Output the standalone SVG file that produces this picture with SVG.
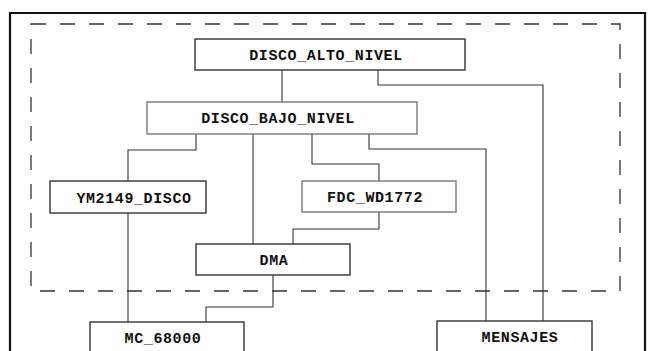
<svg xmlns="http://www.w3.org/2000/svg" width="650" height="351" viewBox="0 0 650 351">
<style>
.box{fill:#fff;stroke:#333;stroke-width:1.4}
.lt{stroke:#777}
.t{font-family:"Liberation Mono","DejaVu Sans Mono",monospace;font-weight:bold;font-size:15px;letter-spacing:0.6px;fill:#111;text-anchor:middle}
.c{fill:none;stroke:#333;stroke-width:1.1}
</style>
<rect width="650" height="351" fill="#fff"/>
<path d="M10,360 V13 H645 V360" fill="none" stroke="#111" stroke-width="2.2"/>
<rect x="31" y="24" width="589" height="267" fill="none" stroke="#333" stroke-width="1.3" stroke-dasharray="15 14"/>
<g id="connectors">
<path class="c" d="M282,70 V102"/>
<path class="c" d="M378,70 V85 H543 V321"/>
<path class="c" d="M196,134 V150 H128 V181"/>
<path class="c" d="M253,134 V244"/>
<path class="c lt" d="M312,134 V164 H379 V181"/>
<path class="c" d="M369,134 V149 H486 V321"/>
<path class="c lt" d="M379,212 V229 H293 V244"/>
<path class="c" d="M128,213 V322"/>
<path class="c" d="M273,275 V307 H206 V322"/>
</g>
<g id="disco_alto_nivel"><rect class="box" x="195" y="39" width="270" height="31"/><text class="t" x="326" y="60">DISCO_ALTO_NIVEL</text></g>
<g id="disco_bajo_nivel"><rect class="box lt" x="147" y="102" width="270" height="32"/><text class="t" x="278" y="123">DISCO_BAJO_NIVEL</text></g>
<g id="ym2149_disco"><rect class="box" x="50" y="181" width="156" height="32"/><text class="t" x="134" y="203">YM2149_DISCO</text></g>
<g id="fdc_wd1772"><rect class="box lt" x="302" y="181" width="154" height="31"/><text class="t" x="375" y="202">FDC_WD1772</text></g>
<g id="dma"><rect class="box" x="196" y="244" width="154" height="31"/><text class="t" x="274" y="265">DMA</text></g>
<g id="mc_68000"><rect class="box" x="90" y="322" width="154" height="40"/><text class="t" x="163" y="343">MC_68000</text></g>
<g id="mensajes"><rect class="box" x="437" y="321" width="155" height="40"/><text class="t" x="520" y="342">MENSAJES</text></g>
</svg>
